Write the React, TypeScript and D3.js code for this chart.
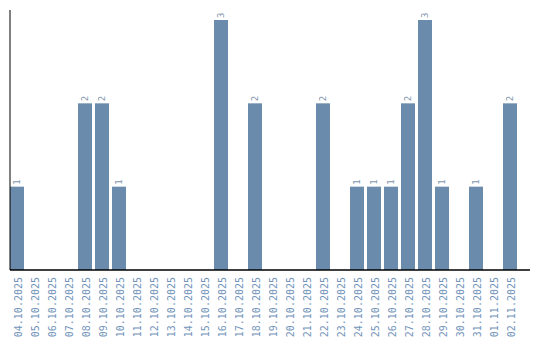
import React from "react";
import * as d3 from "d3";

const dates = [
  "04.10.2025","05.10.2025","06.10.2025","07.10.2025","08.10.2025","09.10.2025","10.10.2025",
  "11.10.2025","12.10.2025","13.10.2025","14.10.2025","15.10.2025","16.10.2025","17.10.2025",
  "18.10.2025","19.10.2025","20.10.2025","21.10.2025","22.10.2025","23.10.2025","24.10.2025",
  "25.10.2025","26.10.2025","27.10.2025","28.10.2025","29.10.2025","30.10.2025","31.10.2025",
  "01.11.2025","02.11.2025",
];
const counts = [1,0,0,0,2,2,1,0,0,0,0,0,3,0,2,0,0,0,2,0,1,1,1,2,3,1,0,1,0,2];

const W = 540, H = 340;
const left = 10, top = 10, bottom = 270, right = 530;

export default function App() {
  const x = d3.scaleBand<string>().domain(dates).range([left, 517]).paddingInner(3 / 17).paddingOuter(0);
  const y = d3.scaleLinear().domain([0, 3]).range([bottom, 20]);
  const font = "'DejaVu Sans Mono', monospace";
  return (
    <svg width={W} height={H} style={{ position: "absolute", left: 0, top: 0 }}>
      {dates.map((d, i) => {
        const v = counts[i];
        const cx = (x(d) as number) + x.bandwidth() / 2;
        return (
          <g key={d}>
            {v > 0 && (
              <rect x={x(d)} y={y(v)} width={x.bandwidth()} height={bottom - y(v)} fill="#6a8bab" />
            )}
            {v > 0 && (
              <text transform={`translate(${cx + 3},${y(v) - 2}) rotate(-90)`} fontFamily={font} fontSize={9} fill="#8096ae">
                {v}
              </text>
            )}
            <text transform={`translate(${cx + 4.5},${bottom + 7}) rotate(-90)`} textAnchor="end" fontFamily={font} fontSize={10} fill="#7394ba">
              {d}
            </text>
          </g>
        );
      })}
      <line x1={left} x2={left} y1={top} y2={bottom} stroke="#000" strokeWidth={1} />
      <line x1={left} x2={right} y1={bottom} y2={bottom} stroke="#000" strokeWidth={1.5} />
    </svg>
  );
}
